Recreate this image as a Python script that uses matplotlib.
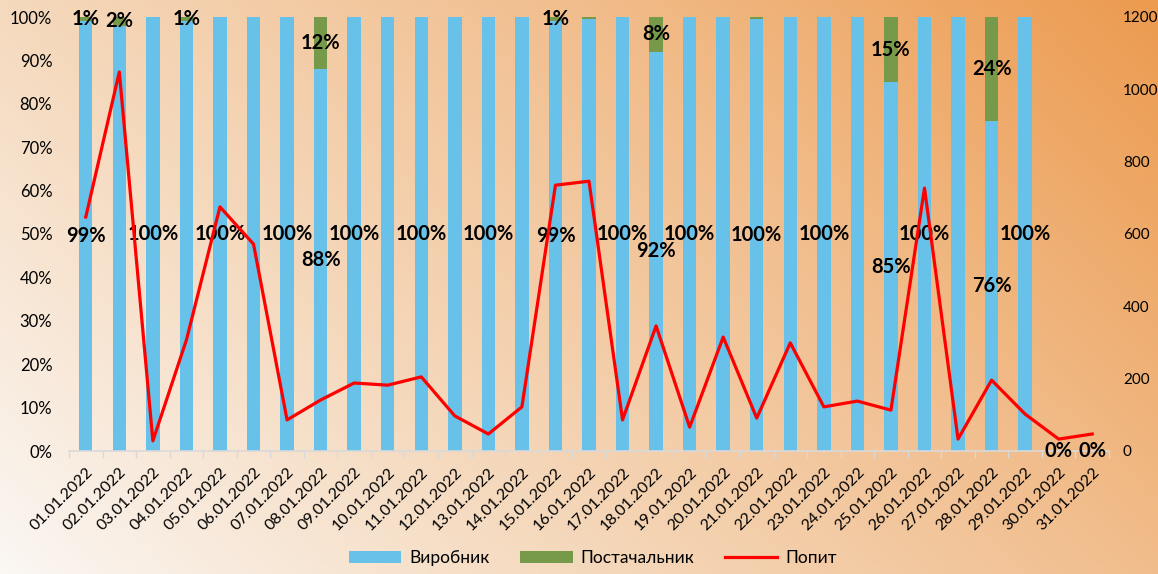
import matplotlib
matplotlib.use("Agg")
import matplotlib.pyplot as plt
import numpy as np
from matplotlib.colors import LinearSegmentedColormap
from matplotlib.ticker import FixedLocator, PercentFormatter

# --- data -------------------------------------------------------------------
dates = [f"{d:02d}.01.2022" for d in range(1, 32)]

# share of supplier (Постачальник), percent
supplier = [1, 2, 0, 1, 0, 0, 0, 12, 0, 0,
            0, 0, 0, 0, 1, 0.4, 0, 8, 0, 0,
            0.4, 0, 0, 0, 15, 0, 0, 24, 0, 0, 0]
# share of producer (Виробник), percent; last two days are empty
producer = [99, 98, 100, 99, 100, 100, 100, 88, 100, 100,
            100, 100, 100, 100, 99, 99.6, 100, 92, 100, 100,
            99.6, 100, 100, 100, 85, 100, 100, 76, 100, 0, 0]
# demand (Попит), right axis
demand = [647, 1048, 28, 307, 675, 572, 86, 141, 188, 182,
          205, 97, 47, 122, 735, 746, 86, 346, 66, 315,
          91, 299, 122, 138, 113, 727, 33, 196, 102, 33, 47]
# days whose producer label is visible in the source chart
producer_labelled = [1, 3, 5, 7, 8, 9, 11, 13, 15, 17, 18, 19,
                     21, 23, 25, 26, 28, 29, 30, 31]

BLUE = "#68c1e8"
GREEN = "#77994a"
RED = "#ff0000"
FONT = ["Lato", "DejaVu Sans"]
plt.rcParams["font.family"] = FONT

W, H = 1158, 574
fig = plt.figure(figsize=(W / 100, H / 100), dpi=100)

# diagonal gradient background
bg = fig.add_axes([0, 0, 1, 1], zorder=-10)
xx, yy = np.meshgrid(np.linspace(0, W, 300), np.linspace(0, H, 150))
t = (xx + (H - yy)) / (W + H)
cmap = LinearSegmentedColormap.from_list(
    "bg", ["#fbf7f3", "#f5d9bd", "#f1bd8c", "#ec9b4f"])
bg.imshow(t, cmap=cmap, aspect="auto", extent=[0, 1, 0, 1], origin="upper")
bg.axis("off")

ax = fig.add_axes([69 / W, 1 - 451 / H, (1109 - 69) / W, (451 - 17) / H])
ax.patch.set_alpha(0)
x = np.arange(len(dates))
prod = np.array(producer) / 100
supp = np.array(supplier) / 100

ax.bar(x, prod, width=0.4, color=BLUE, label="Виробник", zorder=2)
ax.bar(x, supp, width=0.4, bottom=prod, color=GREEN, label="Постачальник", zorder=2)

for i, v in enumerate(producer):
    if i + 1 in producer_labelled:
        ax.text(x[i], prod[i] / 2, f"{round(v)}%", ha="center", va="center",
                fontsize=14.5, fontweight="bold", color="black", zorder=5)
for i, v in enumerate(supplier):
    if round(v) >= 1:
        ax.text(x[i], prod[i] + supp[i] / 2, f"{round(v)}%", ha="center",
                va="center", fontsize=14.5, fontweight="bold", color="black", zorder=5)

ax.set_xlim(-0.5, len(dates) - 0.5)
ax.set_ylim(0, 1)
ax.yaxis.set_major_locator(FixedLocator(np.linspace(0, 1, 11)))
ax.yaxis.set_major_formatter(PercentFormatter(1.0, decimals=0))
ax.set_xticks(x)
ax.set_xticklabels(dates, rotation=45, ha="right", rotation_mode="anchor")
ax.xaxis.set_minor_locator(FixedLocator(np.arange(-0.5, len(dates), 1)))
ax.tick_params(axis="x", which="major", length=0, pad=10, labelsize=11.5)
ax.tick_params(axis="x", which="minor", length=5, color="#d9d9d9", width=1)
ax.tick_params(axis="y", length=0, pad=12, labelsize=12)
for side in ["top", "right", "left"]:
    ax.spines[side].set_visible(False)
ax.spines["bottom"].set_color("#d9d9d9")
ax.spines["bottom"].set_linewidth(1.2)

ax2 = ax.twinx()
ax2.plot(x, demand, color=RED, linewidth=2.3, label="Попит", zorder=4)
ax2.set_ylim(0, 1200)
ax2.yaxis.set_major_locator(FixedLocator(np.arange(0, 1201, 200)))
ax2.tick_params(axis="y", length=0, pad=10, labelsize=11)
for side in ["top", "right", "left", "bottom"]:
    ax2.spines[side].set_visible(False)

h1, l1 = ax.get_legend_handles_labels()
h2, l2 = ax2.get_legend_handles_labels()
fig.legend(h1 + h2, l1 + l2, loc="center", bbox_to_anchor=(0.512, 1 - 558 / H),
           ncol=3, frameon=False, fontsize=12.5, handlelength=3.0,
           columnspacing=1.8, handletextpad=0.45)

fig.savefig("out.png", dpi=100)
plt.close(fig)
